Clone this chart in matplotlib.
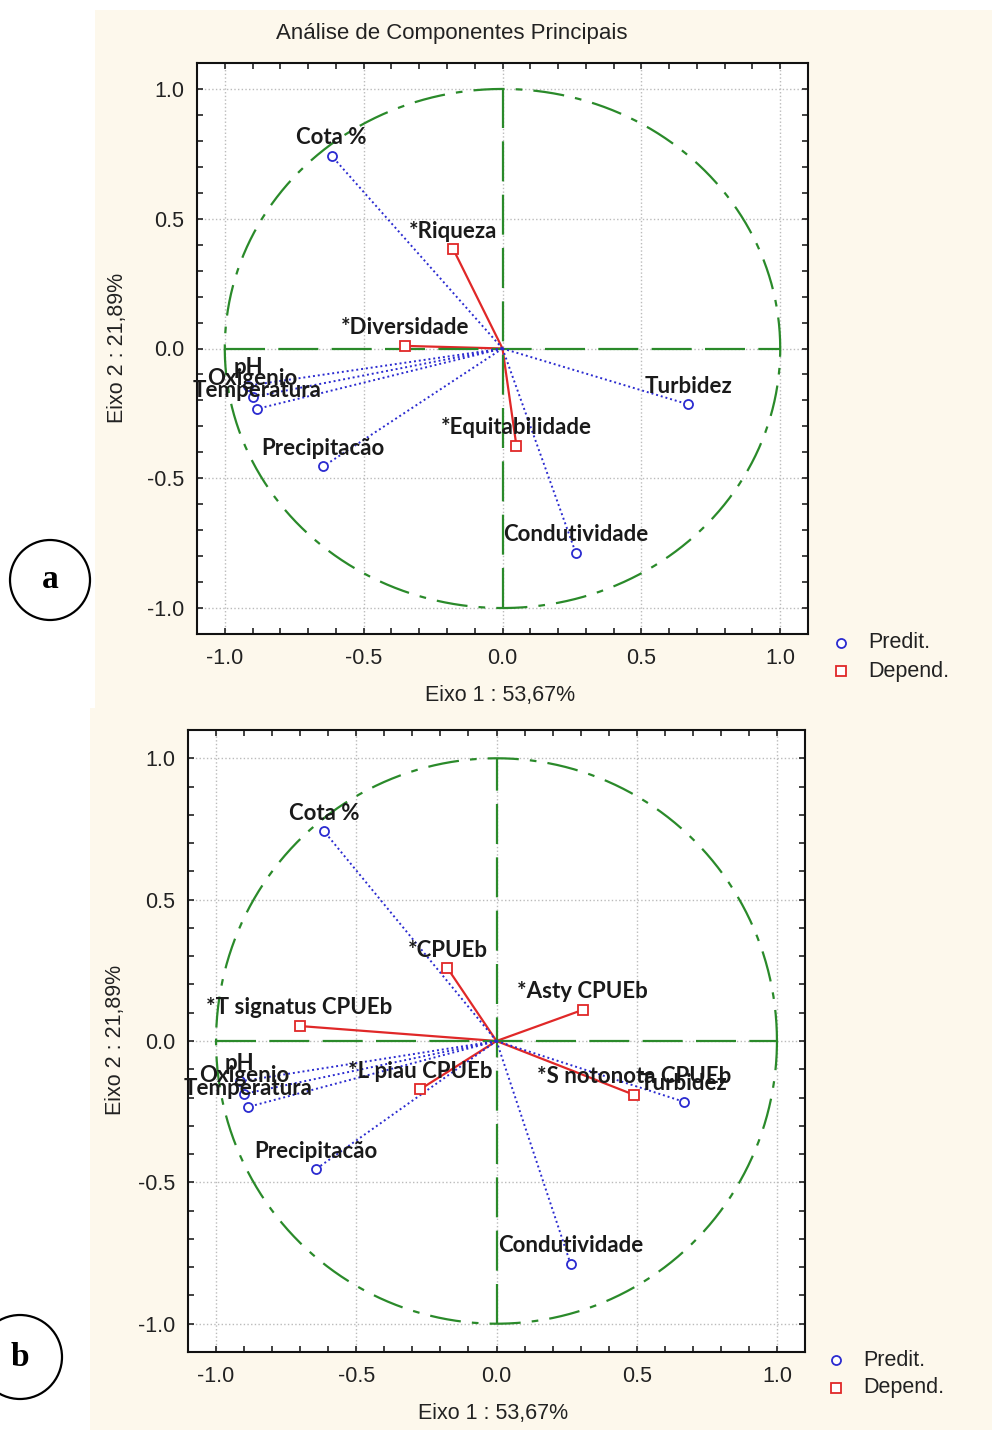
import numpy as np
import matplotlib
matplotlib.use("Agg")
import matplotlib.pyplot as plt
from matplotlib.patches import Rectangle, Circle

# predictor loadings (same PCA in both panels)
pred_names = ["Cota %", "pH", "Oxigenio", "Temperatura", "Precipitacão", "Turbidez", "Condutividade"]
pred_x = [-0.615, -0.915, -0.90, -0.885, -0.645, 0.668, 0.264]
pred_y = [0.742, -0.143, -0.187, -0.233, -0.454, -0.215, -0.788]

# dependent variables, panel a
dep_a_names = ["*Riqueza", "*Diversidade", "*Equitabilidade"]
dep_a_x = [-0.177, -0.350, 0.050]
dep_a_y = [0.382, 0.010, -0.374]

# dependent variables, panel b
dep_b_names = ["*CPUEb", "*Asty CPUEb", "*T signatus CPUEb", "*L piau CPUEb", "*S notonota CPUEb"]
dep_b_x = [-0.175, 0.307, -0.702, -0.271, 0.492]
dep_b_y = [0.258, 0.110, 0.053, -0.170, -0.191]

W, H = 992, 1430
fig = plt.figure(figsize=(W / 100, H / 100), dpi=100)
fig.patch.set_facecolor("white")

# background layer in pixel coords
bg = fig.add_axes([0, 0, 1, 1], zorder=0)
bg.set_xlim(0, W)
bg.set_ylim(H, 0)
bg.axis("off")
cream = "#fdf8ec"
bg.add_patch(Rectangle((95, 10), W - 95, 698, color=cream, lw=0))
bg.add_patch(Rectangle((90, 708), W - 90, H - 708, color=cream, lw=0))
bg.add_patch(Circle((50, 580), 40, fill=False, ec="black", lw=1.6))
bg.add_patch(Circle((20, 1357), 42, fill=False, ec="black", lw=1.6))
bg.text(50, 580, "a", family="Liberation Serif", weight="bold", fontsize=24,
        ha="center", va="center")
bg.text(20, 1357, "b", family="Liberation Serif", weight="bold", fontsize=24,
        ha="center", va="center")

sans = "Liberation Sans"
tcol = "#222222"
fs = 15.5
bg.text(452, 34, "Análise de Componentes Principais", family=sans, fontsize=fs + 0.5,
        ha="center", va="center", color=tcol)

green = "#2a8a2a"
blue = "#2b2bd0"
red = "#e02828"
t = np.linspace(0, 2 * np.pi, 400)


def panel(rect, dnames, dx, dy, xlab_pos, ylab_pos, leg_pos):
    l, tp, r, b = rect
    ax = fig.add_axes([l / W, 1 - b / H, (r - l) / W, (b - tp) / H], zorder=1)
    ax.set_facecolor("white")
    ax.set_xlim(-1.1, 1.1)
    ax.set_ylim(-1.1, 1.1)
    ticks = [-1.0, -0.5, 0.0, 0.5, 1.0]
    ax.set_xticks(ticks)
    ax.set_yticks(ticks)
    ax.set_xticks(np.arange(-1.0, 1.01, 0.1), minor=True)
    ax.set_yticks(np.arange(-1.0, 1.01, 0.1), minor=True)
    ax.set_xticklabels(["%.1f" % v for v in ticks], family=sans, fontsize=fs)
    ax.set_yticklabels(["%.1f" % v for v in ticks], family=sans, fontsize=fs)
    ax.tick_params(which="both", direction="in", top=True, right=True, length=4,
                   width=1.2, color="#222222")
    ax.tick_params(axis="x", which="major", pad=10, labelcolor=tcol)
    ax.tick_params(axis="y", which="major", pad=9, labelcolor=tcol)
    ax.grid(True, which="major", color="#bbbbbb", ls=":", lw=1)
    for s in ax.spines.values():
        s.set_linewidth(1.5)
        s.set_color("#111111")

    ax.plot(np.cos(t), np.sin(t), color=green, lw=1.6, dashes=(14, 5, 3, 5))
    ax.plot([-1, 1], [0, 0], color=green, lw=1.6, dashes=(18, 6), zorder=3)
    ax.plot([0, 0], [-1, 1], color=green, lw=1.6, dashes=(18, 6), zorder=3)

    for x, y in zip(dx, dy):
        ax.plot([0, x], [0, y], color=red, lw=1.6, zorder=2)
    for x, y in zip(pred_x, pred_y):
        ax.plot([0, x], [0, y], color=blue, lw=1.4, ls=(0, (1, 1.5)), zorder=4)
    ax.plot(pred_x, pred_y, "o", ms=6.5, mfc="white", mec=blue, mew=1.3, zorder=5)
    ax.plot(dx, dy, "s", ms=7, mfc="white", mec=red, mew=1.3, zorder=5)

    for n, x, y in list(zip(pred_names, pred_x, pred_y)) + list(zip(dnames, dx, dy)):
        ax.annotate(n, (x, y), xytext=(0, 13), textcoords="offset points",
                    ha="center", va="center", family="Lato", weight="bold",
                    fontsize=16, color="#1a1a1a", zorder=6)

    bg.text(xlab_pos[0], xlab_pos[1], "Eixo 1 : 53,67%", family=sans, fontsize=fs,
            ha="center", va="center", color=tcol)
    bg.text(ylab_pos[0], ylab_pos[1], "Eixo 2 : 21,89%", family=sans, fontsize=fs,
            ha="center", va="center", rotation=90, color=tcol)
    mx, my = leg_pos
    bg.plot([mx], [my], "o", ms=6.5, mfc="white", mec=blue, mew=1.3)
    bg.plot([mx], [my + 28], "s", ms=7, mfc="white", mec=red, mew=1.3)
    bg.text(mx + 27, my, "Predit.", family=sans, fontsize=fs, va="center", color=tcol)
    bg.text(mx + 27, my + 28, "Depend.", family=sans, fontsize=fs, va="center", color=tcol)
    return ax


panel((197, 63, 808, 634), dep_a_names, dep_a_x, dep_a_y, (500, 696), (118, 348), (841, 643))
panel((188, 730, 805, 1352), dep_b_names, dep_b_x, dep_b_y, (493, 1414), (115, 1040), (836, 1360))

fig.savefig("out.png", dpi=100, facecolor=fig.get_facecolor())
